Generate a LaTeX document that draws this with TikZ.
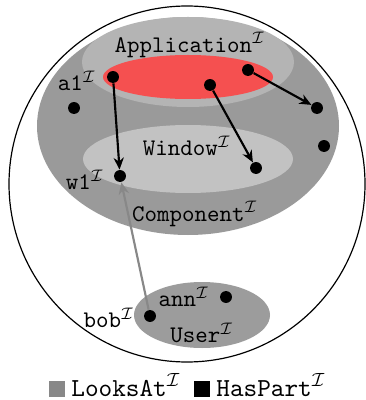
\documentclass[tikz,border=0pt]{standalone}
\usetikzlibrary{arrows.meta}
\definecolor{compgray}{HTML}{9A9A9A}
\definecolor{appgray}{HTML}{B4B4B4}
\definecolor{wingray}{HTML}{C2C2C2}
\definecolor{usergray}{HTML}{9C9C9C}
\definecolor{lookgray}{HTML}{888888}
\definecolor{appred}{HTML}{F55050}
\newcommand{\ii}{$^{\mathcal{I}}$}
\tikzset{
  dot/.style={circle, fill=black, inner sep=0pt, minimum size=5pt},
  lbl/.style={font=\ttfamily, inner sep=0pt},
  leglbl/.style={font=\fontsize{10.9}{13}\selectfont\ttfamily, inner sep=0pt},
  haspart/.style={-{Stealth[length=5pt,width=4.3pt]}, line width=0.9pt, black},
  looksat/.style={-{Stealth[length=5pt,width=4.3pt]}, line width=0.9pt, lookgray},
  legbox/.style={minimum size=7pt, inner sep=0pt}
}
\begin{document}
\begin{tikzpicture}[x=0.42pt, y=-0.42pt]
  \useasboundingbox (0,0) rectangle (365,400);
  % domain
  \draw[line width=0.5pt, fill=white] (187,184) circle [radius=178];
  % concept extensions
  \fill[compgray] (188,126) ellipse [x radius=151, y radius=109];
  \fill[appgray] (188,62) ellipse [x radius=106, y radius=45];
  \fill[appred] (188,77) ellipse [x radius=85, y radius=22];
  \fill[wingray] (188,159) ellipse [x radius=105, y radius=34];
  \fill[usergray] (202,315) ellipse [x radius=68, y radius=33];
  % concept names
  \node[lbl] (lapp) at (190,45) {Application\ii};
  \node[lbl] (lwin) at (187,146) {Window\ii};
  \node[lbl] (lcomp) at (195,214) {Component\ii};
  \node[lbl] (luser) at (202,333) {User\ii};
  % individuals
  \node[dot] (a1) at (113,77) {};
  \node[dot] (c1) at (74,108) {};
  \node[dot] (a2) at (210,85) {};
  \node[dot] (a3) at (248,70) {};
  \node[dot] (c2) at (317,108) {};
  \node[dot] (c3) at (324,146) {};
  \node[dot] (w2) at (256,168) {};
  \node[dot] (w1) at (120,176) {};
  \node[dot] (bob) at (150,316) {};
  \node[dot] (ann) at (226,297) {};
  \node[lbl] (la1) at (77,81) {a1\ii};
  \node[lbl] (lw1) at (85,180) {w1\ii};
  \node[lbl] (lbob) at (109,318) {bob\ii};
  \node[lbl] (lann) at (184,297) {ann\ii};
  % roles
  \draw[looksat] (bob) -- (w1);
  \draw[haspart] (a1) -- (w1);
  \draw[haspart] (a2) -- (w2);
  \draw[haspart] (a3) -- (c2);
  % legend
  \node[legbox, fill=lookgray] (kl) at (57,389) {};
  \node[leglbl, anchor=base west] (tl) at (71,396) {LooksAt\ii};
  \node[legbox, fill=black] (kh) at (202,389) {};
  \node[leglbl, anchor=base west] (th) at (216,396) {HasPart\ii};
\end{tikzpicture}
\end{document}
